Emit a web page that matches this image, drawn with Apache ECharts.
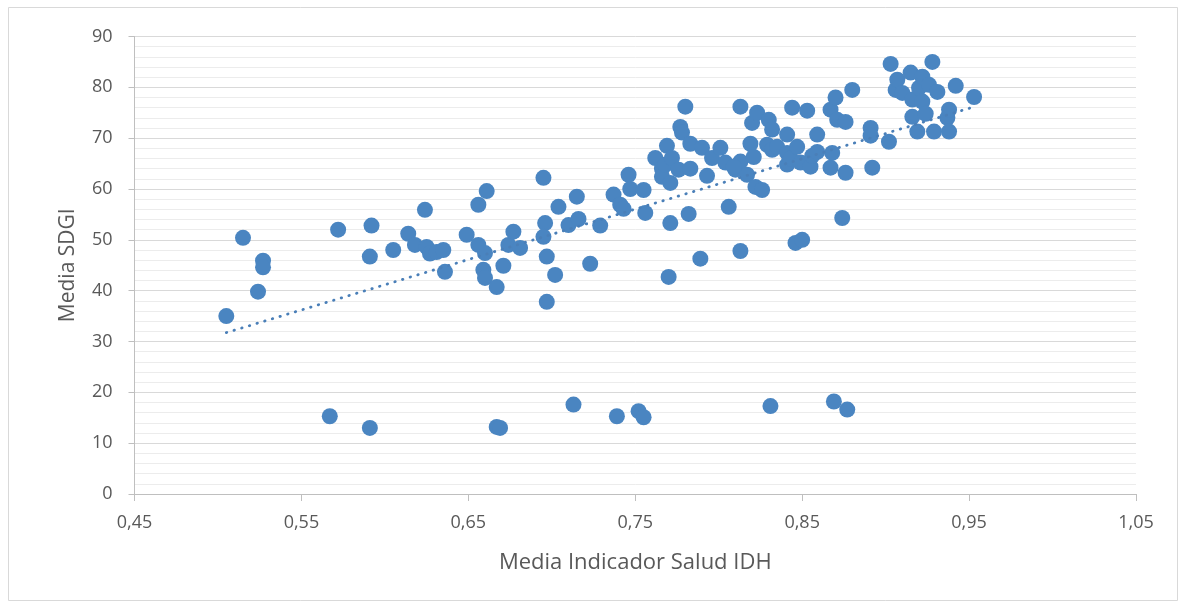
<!DOCTYPE html>
<html>
<head>
<meta charset="utf-8">
<script src="https://cdn.jsdelivr.net/npm/echarts@6/dist/echarts.min.js"></script>
<style>
html,body{margin:0;padding:0;background:#fff;}
#chart{width:1186px;height:607px;}
</style>
</head>
<body>
<div id="chart"></div>
<script>
// Media Indicador Salud IDH (x)
const idhSalud = [
0.505,0.515,0.524,0.527,0.527,0.567,0.572,0.591,0.591,0.592,0.605,0.614,0.618,0.624,0.625,0.627,0.631,0.635,0.636,0.649,
0.656,0.656,0.660,0.659,0.660,0.661,0.667,0.667,0.669,0.671,0.674,0.677,0.681,0.695,0.696,0.695,0.697,0.702,0.697,0.704,
0.710,0.713,0.715,0.716,0.723,0.729,0.737,0.739,0.741,0.743,0.746,0.747,0.752,0.755,0.755,0.756,0.770,0.771,0.782,0.789,
0.806,0.813,0.831,0.846,0.850,0.869,0.874,0.877,
0.762,0.766,0.766,0.768,0.769,0.771,0.772,0.776,0.777,0.778,0.780,0.783,0.783,0.790,0.793,0.796,0.801,0.804,0.810,0.813,
0.813,0.817,0.819,0.820,0.821,0.822,0.823,0.826,0.829,0.830,0.832,0.832,0.835,0.841,0.841,0.841,0.843,0.844,0.847,0.849,
0.853,0.855,0.856,0.859,0.859,0.867,0.867,0.868,0.870,0.871,0.876,0.876,0.880,0.891,0.891,0.892,0.902,0.903,0.906,0.907,
0.910,0.915,0.916,0.916,0.919,0.920,0.922,0.922,0.924,0.926,0.928,0.929,0.931,0.937,0.938,0.938,0.942,0.953,0.809
];
// Media SDGI (y)
const sdgi = [
35.0,50.4,39.8,45.9,44.6,15.3,52.0,13.0,46.7,52.8,48.0,51.2,49.0,55.9,48.6,47.3,47.6,48.0,43.7,51.0,
56.9,49.0,47.4,44.1,42.5,59.6,40.7,13.2,13.0,44.9,49.0,51.6,48.4,62.2,53.3,50.6,46.7,43.1,37.8,56.5,
52.9,17.6,58.5,54.1,45.3,52.8,58.9,15.3,56.9,56.1,62.8,60.0,16.3,15.1,59.8,55.3,42.7,53.3,55.1,46.3,
56.5,47.8,17.3,49.4,50.0,18.2,54.3,16.6,
66.1,64.0,62.4,64.8,68.5,61.2,66.1,63.8,72.2,71.1,76.2,68.9,64.0,68.1,62.6,66.1,68.1,65.2,63.8,65.4,
76.2,62.8,68.9,73.0,66.3,60.4,75.0,59.8,68.7,73.6,71.7,67.7,68.3,70.7,67.1,64.8,66.0,76.0,68.3,65.2,
75.4,64.4,66.5,70.7,67.3,75.6,64.2,67.1,78.0,73.6,73.2,63.2,79.5,72.0,70.5,64.2,69.3,84.6,79.5,81.5,
78.9,82.9,77.6,74.2,71.3,79.9,82.1,77.2,74.8,80.5,85.0,71.3,79.1,74.0,71.3,75.6,80.3,78.1,64.4
];
const yTicks = [0,10,20,30,40,50,60,70,80,90];
const xTicks = [0.45,0.55,0.65,0.75,0.85,0.95,1.05];

const points = idhSalud.map((x,i)=>[x, sdgi[i]]);

// linear trendline (least squares)
const n = points.length;
let sx=0, sy=0, sxx=0, sxy=0;
points.forEach(p=>{sx+=p[0]; sy+=p[1]; sxx+=p[0]*p[0]; sxy+=p[0]*p[1];});
const slope = (n*sxy - sx*sy)/(n*sxx - sx*sx);
const intercept = (sy - slope*sx)/n;
const xMin = Math.min(...idhSalud), xMax = Math.max(...idhSalud);
const trend = [[xMin, intercept+slope*xMin],[xMax, intercept+slope*xMax]];

const FONT = 'Open Sans';
const chart = echarts.init(document.getElementById('chart'));
chart.setOption({
  animation:false,
  backgroundColor:'#fff',
  graphic:[{type:'rect', shape:{x:8.5,y:7.5,width:1169,height:593}, style:{fill:'none', stroke:'#d9d9d9', lineWidth:1}, silent:true, z:-1}],
  grid:{left:134.5, right:50, top:36.5, bottom:113, containLabel:false},
  xAxis:{
    type:'value', min:xTicks[0], max:xTicks[xTicks.length-1], interval:0.1,
    name:'Media Indicador Salud IDH', nameLocation:'middle', nameGap:58,
    nameTextStyle:{color:'#595959', fontSize:22, fontFamily:FONT},
    axisLine:{show:true, lineStyle:{color:'#bfbfbf', width:1}},
    axisTick:{show:true, length:7, lineStyle:{color:'#bfbfbf'}},
    axisLabel:{color:'#595959', fontSize:18, fontFamily:FONT, margin:20,
      formatter:v=>v.toFixed(2).replace('.',',')},
    splitLine:{show:false}
  },
  yAxis:{
    type:'value', min:yTicks[0], max:yTicks[yTicks.length-1], interval:10,
    name:'Media SDGI', nameLocation:'middle', nameGap:56,
    nameTextStyle:{color:'#595959', fontSize:21, fontFamily:FONT},
    axisLine:{show:true, lineStyle:{color:'#bfbfbf', width:1}},
    axisTick:{show:true, length:6, lineStyle:{color:'#bfbfbf'}},
    axisLabel:{color:'#595959', fontSize:18, fontFamily:FONT, margin:22},
    splitLine:{show:true, lineStyle:{color:'#d9d9d9', width:1}},
    minorTick:{show:false, splitNumber:5},
    minorSplitLine:{show:true, lineStyle:{color:'#ececec', width:1}}
  },
  series:[
    {type:'scatter', data:points, symbol:'circle', symbolSize:16,
     itemStyle:{color:'#4A85C1', opacity:1}, z:2},
    {type:'line', data:trend, symbol:'none', z:3,
     lineStyle:{color:'#4A7FB8', width:2.8, type:[0.5,7.5], cap:'round'}}
  ]
});
</script>
</body>
</html>
